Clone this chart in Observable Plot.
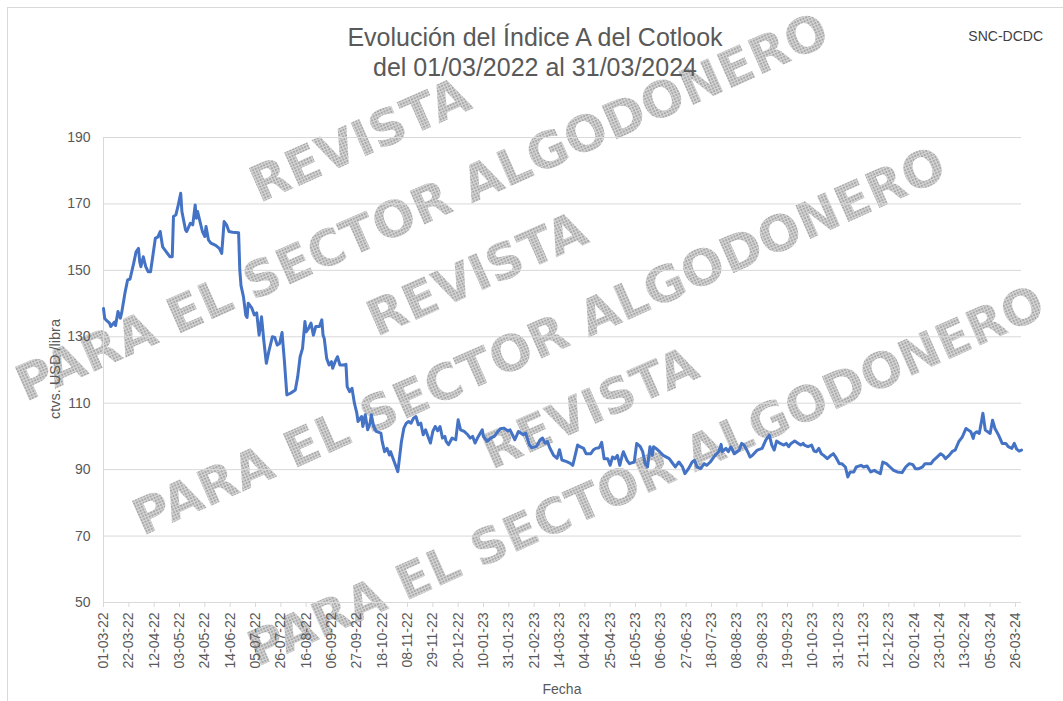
<!DOCTYPE html>
<html><head><meta charset="utf-8">
<script src="https://cdn.jsdelivr.net/npm/d3@7"></script>
<script src="https://cdn.jsdelivr.net/npm/@observablehq/plot@0.6"></script>
<style>
html,body{margin:0;padding:0;background:#fff;}
#wrap{position:relative;width:1063px;height:701px;overflow:hidden;font-family:"Liberation Sans",Arial,sans-serif;}
#wm{position:absolute;left:0;top:0;}
#chart{position:absolute;left:0;top:0;}
</style></head>
<body>
<div id="wrap"><svg id="wm" width="1063" height="701"></svg><div id="chart"></div></div>
<script>
// ---- data ----
const startDate = "2022-03-01";
const endDate = "2024-03-31";
const tickStepDays = 21;
const yTicks = [50, 70, 90, 110, 130, 150, 170, 190];
const titleLines = ["Evolución del Índice A del Cotlook", "del 01/03/2022 al 31/03/2024"];
const sourceLabel = "SNC-DCDC";
const yLabel = "ctvs. USD /libra";
const xLabel = "Fecha";
const watermarkTop = "REVISTA";
const watermarkBottom = "PARA EL SECTOR ALGODONERO";

// days since 01-03-2022
const dayOffsets = [
  0,1,2,5,6,9,10,12,14,15,18,20,22,25,27,29,30,31,33,35,37,39,41,43,45,47,49,51,55,57,
  58,60,62,64,65,68,69,72,74,76,77,78,80,82,84,85,87,89,93,96,98,100,102,104,107,112,113,114,116,118,
  119,120,123,125,127,129,131,133,135,137,140,142,144,146,148,150,152,155,159,161,163,165,167,168,170,172,174,176,179,181,
  182,183,185,187,189,190,192,194,196,199,201,202,204,206,208,210,211,214,215,217,219,221,222,224,226,230,231,233,235,237,
  238,241,244,245,247,249,251,253,255,257,259,261,263,265,267,269,271,273,275,277,279,281,283,284,286,289,292,294,296,299,
  302,304,306,308,310,314,315,318,321,324,327,329,332,335,337,339,341,344,348,350,353,355,359,362,364,366,368,370,373,376,
  378,380,384,387,389,391,393,395,398,400,404,406,408,411,413,415,418,420,422,424,426,428,430,431,434,436,440,442,445,447,
  449,451,453,455,456,458,461,464,469,471,474,477,480,482,485,488,490,492,495,498,500,503,505,507,510,512,513,516,518,520,
  523,527,529,531,534,536,538,542,546,549,552,554,556,558,561,564,566,568,570,573,576,578,580,581,584,587,589,591,593,595,
  597,600,603,605,607,610,612,615,617,619,622,624,628,630,633,636,639,641,644,646,649,652,655,658,662,665,668,671,673,676,
  679,681,686,688,691,694,696,698,701,704,706,709,712,715,717,719,721,722,724,726,728,729,731,733,735,737,739,742,745,748,
  750,753,755,757,759,761
];
// Cotlook A index, US cents per pound
const values = [
  138.5,135.5,135.1,134.1,133.1,134.4,133.4,137.6,135.6,137.1,143.6,147.1,147.4,152.1,155.6,156.6,152.6,151.1,154.1,151.1,149.6,149.6,154.6,159.7,160.0,161.7,157.1,156.1,154.1,154.1,
  166.2,166.7,169.7,173.2,167.7,162.2,161.7,164.2,163.7,169.7,165.7,167.7,164.7,161.7,160.2,163.2,159.2,158.2,157.5,156.6,155.1,164.7,163.7,161.7,161.5,161.3,150.0,145.4,142.1,136.4,
  135.8,140.1,138.6,136.6,137.2,130.5,136.0,128.5,122.0,125.5,130.0,129.8,127.5,128.0,131.3,122.5,112.5,113.0,114.0,118.0,124.0,126.5,134.6,131.5,132.5,134.1,130.5,133.1,133.1,135.1,
  130.5,129.5,123.5,121.5,122.5,120.5,122.5,124.0,121.5,121.5,121.7,115.0,113.5,114.5,110.0,107.0,104.5,106.0,103.0,106.5,102.0,104.0,106.5,103.0,101.5,101.0,98.5,95.4,96.4,94.4,
  95.4,92.4,89.4,92.4,98.5,102.5,104.0,104.5,104.0,105.5,106.0,103.5,104.0,100.5,102.0,100.0,98.0,101.5,103.0,101.7,103.0,99.5,100.0,98.5,97.5,99.5,99.0,105.0,102.0,101.5,
  100.5,99.5,100.0,98.0,99.5,102.0,100.0,98.5,99.5,100.0,101.5,102.3,102.5,101.7,102.0,100.5,99.0,101.5,100.5,101.0,97.5,96.6,97.0,99.0,99.5,98.0,98.5,96.5,94.4,93.4,
  96.0,92.9,92.4,91.9,91.3,94.3,97.4,96.9,96.4,94.8,94.8,95.9,96.4,96.6,98.2,93.3,93.3,91.3,93.8,93.3,94.3,91.3,94.3,95.4,92.8,91.8,92.3,97.9,96.9,95.4,
  91.8,90.8,96.9,94.3,96.9,96.4,95.4,94.3,93.3,92.3,90.8,92.3,90.8,88.8,90.3,92.3,92.8,90.8,90.3,91.8,91.3,92.3,93.3,94.3,95.4,97.6,95.4,96.4,95.4,96.9,
  94.8,95.9,97.9,97.4,95.4,93.8,94.3,95.9,96.4,98.9,100.4,97.4,95.9,98.6,97.9,97.4,97.9,96.9,97.9,98.6,97.9,97.4,97.9,97.4,96.9,97.4,95.6,95.4,96.4,94.8,
  94.3,93.3,94.3,94.8,93.8,91.8,91.8,90.8,87.8,89.3,89.3,90.8,91.3,90.8,91.1,89.3,89.8,89.3,88.8,92.3,91.8,90.8,89.8,89.3,89.1,90.8,91.8,91.5,90.3,90.3,
  90.8,91.8,91.8,92.8,93.8,94.8,94.3,93.3,94.3,95.6,95.9,98.4,99.9,102.4,101.9,101.4,99.4,100.9,101.4,100.9,104.9,107.0,101.9,101.4,100.9,104.9,102.4,100.4,97.9,97.9,
  96.9,96.4,97.9,96.2,95.6,95.9
];

// ---- build ----
const start = new Date(startDate + "T00:00:00Z");
const end = new Date(endDate + "T00:00:00Z");
const data = dayOffsets.map((d, i) => ({date: d3.utcDay.offset(start, d), value: values[i]}));
const xTicks = d3.range(0, d3.utcDay.count(start, end) + 1, tickStepDays).map(d => d3.utcDay.offset(start, d));
const FONT = '"Liberation Sans", Arial, sans-serif';

// watermark layer (behind the chart)
const wm = d3.select("#wm");
const defs = wm.append("defs");
const pat = defs.append("pattern").attr("id", "dots").attr("patternUnits", "userSpaceOnUse").attr("width", 3).attr("height", 3);
pat.append("rect").attr("width", 3).attr("height", 3).attr("fill", "#d6d6d6");
pat.append("rect").attr("width", 2).attr("height", 2).attr("fill", "#a9a9a9");
wm.append("rect").attr("x", 7.5).attr("y", 7.5).attr("width", 1200).attr("height", 900)
  .attr("fill", "none").attr("stroke", "#d9d9d9");
const wmCenters = [
  {top: [360, 140], bottom: [422, 207], size: 50},
  {top: [477, 274], bottom: [539, 341], size: 50},
  {top: [590, 408], bottom: [646, 476], size: 49}
];
for (const c of wmCenters) {
  for (const [txt, pos] of [[watermarkTop, c.top], [watermarkBottom, c.bottom]]) {
    wm.append("text").attr("x", pos[0]).attr("y", pos[1])
      .attr("transform", `rotate(-24,${pos[0]},${pos[1]})`)
      .attr("text-anchor", "middle").attr("dominant-baseline", "central")
      .attr("font-family", '"DejaVu Sans", sans-serif').attr("font-weight", "bold").attr("font-size", c.size)
      .attr("fill", "url(#dots)").text(txt);
  }
}

const plot = Plot.plot({
  width: 1063, height: 701,
  marginLeft: 103, marginRight: 42, marginTop: 137, marginBottom: 99,
  style: {fontFamily: FONT, fontSize: "14px", color: "#595959", background: "transparent", overflow: "visible"},
  x: {type: "utc", domain: [start, end]},
  y: {domain: [50, 190]},
  marks: [
    Plot.gridY(yTicks.filter(v => v > 50), {stroke: "#d9d9d9", strokeOpacity: 1, strokeWidth: 1}),
    Plot.ruleY([50], {stroke: "#d9d9d9", strokeWidth: 1}),
    Plot.ruleX([start], {stroke: "#d9d9d9", strokeWidth: 1}),
    Plot.axisY(yTicks, {tickSize: 0, tickPadding: 13, fill: "#595959", label: null}),
    Plot.axisX(xTicks, {tickSize: 5, tickPadding: 5, tickRotate: -90, tickFormat: d3.utcFormat("%d-%m-%y"),
      stroke: "#d9d9d9", fill: "#595959", label: null}),
    Plot.line(data, {x: "date", y: "value", stroke: "#4472C4", strokeWidth: 3, strokeLinejoin: "round"})
  ]
});
document.getElementById("chart").appendChild(plot);

const svg = d3.select(plot);
svg.append("text").attr("x", 535).attr("y", 46).attr("text-anchor", "middle")
  .attr("font-size", 25).attr("fill", "#595959").attr("font-family", FONT).text(titleLines[0]);
svg.append("text").attr("x", 535).attr("y", 76).attr("text-anchor", "middle")
  .attr("font-size", 25).attr("fill", "#595959").attr("font-family", FONT).text(titleLines[1]);
svg.append("text").attr("x", 1043).attr("y", 41).attr("text-anchor", "end")
  .attr("font-size", 14).attr("fill", "#404040").attr("font-family", FONT).text(sourceLabel);
svg.append("text").attr("transform", "translate(60,369) rotate(-90)").attr("text-anchor", "middle")
  .attr("font-size", 14.5).attr("fill", "#595959").attr("font-family", FONT).text(yLabel);
svg.append("text").attr("x", 562).attr("y", 694).attr("text-anchor", "middle")
  .attr("font-size", 14).attr("fill", "#595959").attr("font-family", FONT).text(xLabel);
</script>
</body></html>
